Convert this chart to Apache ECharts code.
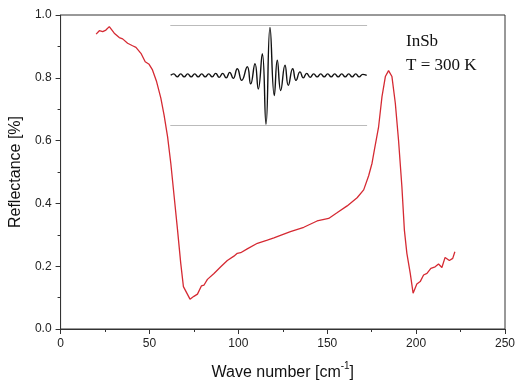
<!DOCTYPE html>
<html>
<head>
<meta charset="utf-8">
<script src="https://cdn.jsdelivr.net/npm/echarts@6/dist/echarts.min.js"></script>
<style>html,body{margin:0;padding:0;background:#fff}#c{width:525px;height:388px}</style>
</head>
<body>
<div id="c"></div>
<script>
// Reflectance spectrum
const wavenumber = [20,21.8,23.7,25.5,27.4,30.2,33,34.9,37.7,40.5,42.4,45.2,47.6,49.8,51.7,54,56.4,58.2,60.2,62,63.9,65.8,67.6,69.1,72.8,75,77,79.2,80.7,82.6,86.3,90.1,93.8,97.5,99.4,101.3,105,110.7,116.3,120,123.7,129.3,136.8,144.3,150.8,155.5,161.2,166.8,170.5,173.3,175.2,176.5,178.9,180.8,182.7,184.5,186.4,188.3,190.1,192,193.4,194.8,196.7,198.3,200.4,202.3,204.2,206.1,208.3,210.7,212.6,214.5,216.3,218.7,220.6,221.8];
const reflectance = [0.939,0.950,0.947,0.952,0.963,0.942,0.928,0.924,0.910,0.902,0.897,0.878,0.851,0.843,0.825,0.788,0.735,0.682,0.612,0.528,0.421,0.315,0.209,0.135,0.095,0.104,0.111,0.137,0.140,0.158,0.177,0.198,0.218,0.232,0.241,0.243,0.255,0.273,0.283,0.290,0.298,0.310,0.324,0.344,0.352,0.370,0.392,0.418,0.443,0.488,0.528,0.570,0.644,0.740,0.804,0.823,0.804,0.719,0.602,0.453,0.315,0.241,0.177,0.114,0.143,0.151,0.172,0.177,0.193,0.198,0.207,0.196,0.228,0.218,0.225,0.246];

// Inset interferogram (relative positions)
const insetX = [0,3,6.5,10,13.5,17,20.5,24,27.5,31,34.5,38,41.5,45,48.5,52,55.5,59,62.5,66.6,71,76.6,80,84.3,87.6,91.6,95.3,99.3,103.6,106.6,110,114.3,117.6,122,125.3,129.3,132.6,136,139.5,143,146.5,150,153.5,157,160.5,164,167.5,171,174.5,178,181.5,185,188.5,192,196];
const insetY = [0,0.03,-0.03,0.03,-0.03,0.03,-0.03,0.03,-0.03,0.03,-0.03,0.03,-0.03,0.04,-0.04,0.04,-0.05,0.06,-0.06,0.13,-0.10,0.17,-0.17,0.23,-0.27,0.43,-0.97,0.95,-0.40,0.30,-0.30,0.20,-0.20,0.13,-0.10,0.07,-0.05,0.04,-0.04,0.03,-0.03,0.03,-0.03,0.03,-0.03,0.03,-0.03,0.03,-0.03,0.03,-0.03,0.03,-0.03,0.02,0];

const xTicks = [0,50,100,150,200,250];
const yTicks = [0.0,0.2,0.4,0.6,0.8,1.0];

const chart = echarts.init(document.getElementById('c'), null, {renderer:'canvas'});
const axisColor = '#333';
const mainData = wavenumber.map((v,i)=>[v,reflectance[i]]);
const insetData = insetX.map((v,i)=>[v,insetY[i]]);

chart.setOption({
  animation:false,
  backgroundColor:'#fff',
  grid:[
    {left:59.5, right:20, top:15, bottom:59, show:true, borderColor:axisColor, borderWidth:1, backgroundColor:'transparent'},
    {left:170.7, top:25, width:196, height:100.7, show:false}
  ],
  xAxis:[
    {type:'value', gridIndex:0, min:0, max:250, interval:50,
     name:'{a|Wave number [cm}{s|-1}{a|]}', nameLocation:'middle', nameGap:32,
     nameTextStyle:{rich:{a:{fontFamily:'Liberation Sans',fontSize:16,color:'#111',lineHeight:20,verticalAlign:'bottom'},
                          s:{fontFamily:'Liberation Sans',fontSize:10,color:'#111',lineHeight:10,verticalAlign:'top'}}},
     axisLine:{show:true,onZero:false,lineStyle:{color:axisColor,width:1}},
     axisTick:{show:true,inside:false,length:5,lineStyle:{color:axisColor}},
     minorTick:{show:true,splitNumber:2,length:3,lineStyle:{color:axisColor}},
     splitLine:{show:false},
     axisLabel:{fontFamily:'Liberation Sans',fontSize:12,color:'#222',margin:9,
       formatter:v=>xTicks.includes(v)?String(v):''}},
    {type:'value', gridIndex:1, min:0, max:196, position:'bottom', show:true,
     axisLine:{show:true,onZero:false,lineStyle:{color:'#bbb',width:1}},
     axisTick:{show:false}, axisLabel:{show:false}, splitLine:{show:false}},
    {type:'value', gridIndex:1, min:0, max:196, position:'top', show:true,
     axisLine:{show:true,onZero:false,lineStyle:{color:'#bbb',width:1}},
     axisTick:{show:false}, axisLabel:{show:false}, splitLine:{show:false}}
  ],
  yAxis:[
    {type:'value', gridIndex:0, min:0, max:1, interval:0.2,
     name:'Reflectance [%]', nameLocation:'middle', nameGap:36, nameRotate:90,
     nameTextStyle:{fontFamily:'Liberation Sans',fontSize:16,color:'#111'},
     axisLine:{show:true,onZero:false,lineStyle:{color:axisColor,width:1}},
     axisTick:{show:true,inside:false,length:5,lineStyle:{color:axisColor}},
     minorTick:{show:true,splitNumber:2,length:3,lineStyle:{color:axisColor}},
     splitLine:{show:false},
     axisLabel:{fontFamily:'Liberation Sans',fontSize:12,color:'#222',margin:9,
       formatter:v=>{const t=yTicks.find(k=>Math.abs(k-v)<1e-6);return t===undefined?'':t.toFixed(1);}}},
    {type:'value', gridIndex:1, min:-1, max:1, show:false, splitLine:{show:false}}
  ],
  series:[
    {type:'line', xAxisIndex:0, yAxisIndex:0, data:mainData, showSymbol:false, symbol:'none',
     lineStyle:{color:'#d52a33', width:1.3}},
    {type:'line', xAxisIndex:1, yAxisIndex:1, data:insetData, showSymbol:false, symbol:'none', smooth:0.5,
     lineStyle:{color:'#111', width:1.4}}
  ],
  graphic:[
    {type:'text', left:406, top:33, style:{text:'InSb', fontFamily:'Liberation Serif', fontSize:17, fill:'#111'}},
    {type:'text', left:406, top:57, style:{text:'T = 300 K', fontFamily:'Liberation Serif', fontSize:17, fill:'#111'}}
  ]
});
</script>
</body>
</html>
